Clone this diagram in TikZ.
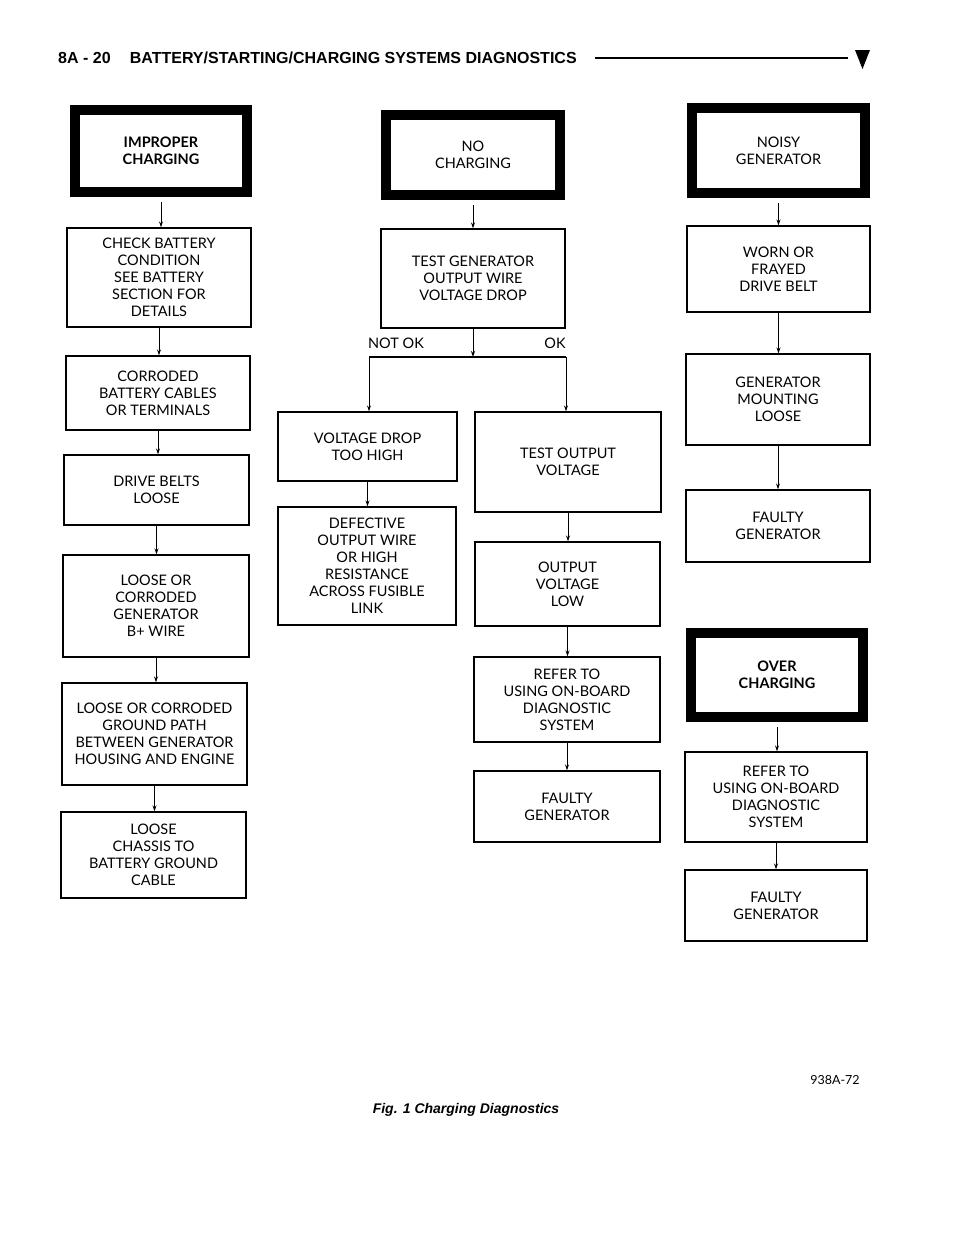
\documentclass[tikz,border=0pt]{standalone}
\usepackage{fontspec}
\usetikzlibrary{arrows.meta}
\setmainfont{Lato}
\newfontfamily\hdfont{Liberation Sans}
\begin{document}
\begin{tikzpicture}[x=1pt,y=-1pt,
  box/.style={draw,line width=1.3pt,align=center,inner sep=0pt,font=\fontsize{14.5}{17}\selectfont},
  tbox/.style={box,line width=10pt},
  arr/.style={line width=1pt,-{Stealth[length=6pt,width=4pt]}}]
\useasboundingbox (0,0) rectangle (960,1242);
\newcommand\bx[7][box]{\node[#1,minimum width=#4-#2,minimum height=#5-#3] (#6) at ({(#2+#4)/2},{(#3+#5)/2}) {#7};}
\newcommand\link[2]{\draw[arr] (#1.south) -- (#1.south |- #2.north);}
% header
\node[anchor=west,font=\hdfont\bfseries\fontsize{16}{18}\selectfont,xscale=1.0,inner sep=0] (hd) at (58,58) {8A - 20\hspace{1.2em}BATTERY/STARTING/CHARGING SYSTEMS DIAGNOSTICS};
\coordinate (l1) at (595,58); \coordinate (l2) at (848,58);
\draw[line width=1.2pt] (l1) -- (l2);
\fill (855,50) -- (870,50) -- (862.5,69) -- cycle;
% column 1
\bx[tbox]{75}{110}{247}{192}{a0}{\bfseries IMPROPER\\\bfseries CHARGING}
\bx{67}{228}{251}{327}{a1}{CHECK BATTERY\\CONDITION\\SEE BATTERY\\SECTION FOR\\DETAILS}
\bx{66}{356}{250}{430}{a2}{CORRODED\\BATTERY CABLES\\OR TERMINALS}
\bx{64}{455}{249}{525}{a3}{DRIVE BELTS\\LOOSE}
\bx{63}{555}{249}{657}{a4}{LOOSE OR\\CORRODED\\GENERATOR\\B+ WIRE}
\bx{62}{683}{247}{785}{a5}{LOOSE OR CORRODED\\GROUND PATH\\BETWEEN GENERATOR\\HOUSING AND ENGINE}
\bx{61}{812}{246}{898}{a6}{LOOSE\\CHASSIS TO\\BATTERY GROUND\\CABLE}
\draw[arr] (a0.south) ++(0,5) -- (a0.south |- a1.north);
\link{a1}{a2}\link{a2}{a3}\link{a3}{a4}\link{a4}{a5}\link{a5}{a6}
% column 2
\bx[tbox]{386}{115}{560}{195}{b0}{NO\\CHARGING}
\bx{381}{229}{565}{328}{b1}{TEST GENERATOR\\OUTPUT WIRE\\VOLTAGE DROP}
\coordinate (jl) at (369,357); \coordinate (jr) at (566,357);
\bx{278}{412}{457}{481}{b2}{VOLTAGE DROP\\TOO HIGH}
\bx{278}{507}{456}{625}{b3}{DEFECTIVE\\OUTPUT WIRE\\OR HIGH\\RESISTANCE\\ACROSS FUSIBLE\\LINK}
\bx{475}{412}{661}{512}{c1}{TEST OUTPUT\\VOLTAGE}
\bx{475}{542}{660}{626}{c2}{OUTPUT\\VOLTAGE\\LOW}
\bx{474}{657}{660}{742}{c3}{REFER TO\\USING ON-BOARD\\DIAGNOSTIC\\SYSTEM}
\bx{474}{771}{660}{842}{c4}{FAULTY\\GENERATOR}
\draw[arr] (b0.south) ++(0,5) -- (b0.south |- b1.north);
\draw[arr] (b1.south) -- (b1.south |- jl);
\draw[line width=1.3pt] (jl) -- (jr);
\draw[arr] (jl) -- (jl |- b2.north);
\draw[arr] (jr) -- (jr |- c1.north);
\node[font=\fontsize{14.5}{16}\selectfont] (nok) at (396,343) {NOT OK};
\node[font=\fontsize{14.5}{16}\selectfont] (ok) at (555,343) {OK};
\link{b2}{b3}\link{c1}{c2}\link{c2}{c3}\link{c3}{c4}
% column 3
\bx[tbox]{692}{108}{865}{193}{d0}{NOISY\\GENERATOR}
\bx{687}{226}{870}{312}{d1}{WORN OR\\FRAYED\\DRIVE BELT}
\bx{686}{354}{870}{445}{d2}{GENERATOR\\MOUNTING\\LOOSE}
\bx{686}{490}{870}{562}{d3}{FAULTY\\GENERATOR}
\draw[arr] (d0.south) ++(0,5) -- (d0.south |- d1.north);
\link{d1}{d2}\link{d2}{d3}
\bx[tbox]{691}{633}{863}{717}{e0}{\bfseries OVER\\\bfseries CHARGING}
\bx{685}{752}{867}{842}{e1}{REFER TO\\USING ON-BOARD\\DIAGNOSTIC\\SYSTEM}
\bx{685}{870}{867}{941}{e2}{FAULTY\\GENERATOR}
\draw[arr] (e0.south) ++(0,5) -- (e0.south |- e1.north);
\link{e1}{e2}
\node[font=\fontsize{12.5}{14}\selectfont] (code) at (835,1080) {938A-72};
\node[font=\hdfont\bfseries\itshape\fontsize{14}{16}\selectfont] (cap) at (466,1110) {Fig. 1 Charging Diagnostics};
\end{tikzpicture}
\end{document}
